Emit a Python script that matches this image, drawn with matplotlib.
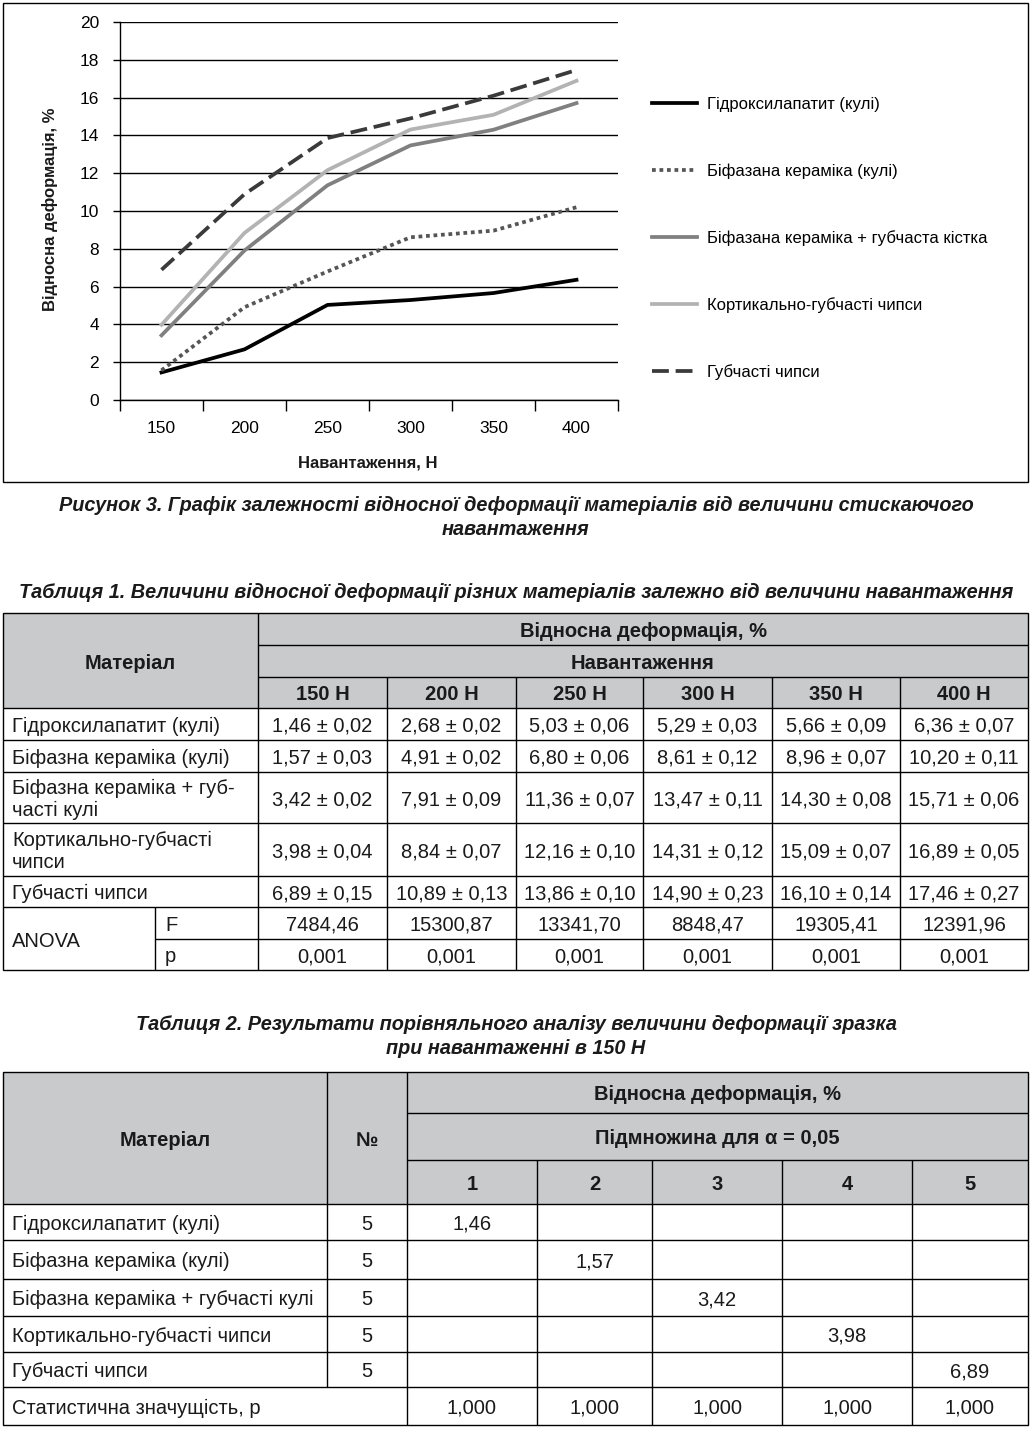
import numpy as np
import matplotlib
matplotlib.use("Agg")
import matplotlib.pyplot as plt
from matplotlib.patches import Rectangle

plt.rcParams['font.family'] = ['Liberation Sans', 'DejaVu Sans']

# ---------------- data ----------------
loads = ['150', '200', '250', '300', '350', '400']
load_headers = ['150 Н', '200 Н', '250 Н', '300 Н', '350 Н', '400 Н']

legend_names = ['Гідроксилапатит (кулі)', 'Біфазана кераміка (кулі)',
                'Біфазана кераміка + губчаста кістка', 'Кортикально-губчасті чипси',
                'Губчасті чипси']
table1_names = ['Гідроксилапатит (кулі)', 'Біфазна кераміка (кулі)',
                'Біфазна кераміка + губ-\nчасті кулі', 'Кортикально-губчасті\nчипси',
                'Губчасті чипси']
table2_names = ['Гідроксилапатит (кулі)', 'Біфазна кераміка (кулі)',
                'Біфазна кераміка + губчасті кулі', 'Кортикально-губчасті чипси',
                'Губчасті чипси']

hydroxyapatite = [1.46, 2.68, 5.03, 5.29, 5.66, 6.36]
biphasic = [1.57, 4.91, 6.80, 8.61, 8.96, 10.20]
biphasic_sponge = [3.42, 7.91, 11.36, 13.47, 14.30, 15.71]
cortical_chips = [3.98, 8.84, 12.16, 14.31, 15.09, 16.89]
sponge_chips = [6.89, 10.89, 13.86, 14.90, 16.10, 17.46]

hydroxyapatite_sd = [0.02, 0.02, 0.06, 0.03, 0.09, 0.07]
biphasic_sd = [0.03, 0.02, 0.06, 0.12, 0.07, 0.11]
biphasic_sponge_sd = [0.02, 0.09, 0.07, 0.11, 0.08, 0.06]
cortical_chips_sd = [0.04, 0.07, 0.10, 0.12, 0.07, 0.05]
sponge_chips_sd = [0.15, 0.13, 0.10, 0.23, 0.14, 0.27]

anova_F = [7484.46, 15300.87, 13341.70, 8848.47, 19305.41, 12391.96]
anova_p = [0.001, 0.001, 0.001, 0.001, 0.001, 0.001]

t2_n = [5, 5, 5, 5, 5]
t2_values = [1.46, 1.57, 3.42, 3.98, 6.89]
t2_subsets = ['1', '2', '3', '4', '5']
t2_p = [1.000, 1.000, 1.000, 1.000, 1.000]

series = [hydroxyapatite, biphasic, biphasic_sponge, cortical_chips, sponge_chips]
series_sd = [hydroxyapatite_sd, biphasic_sd, biphasic_sponge_sd, cortical_chips_sd, sponge_chips_sd]

# ---------------- figure ----------------
W, H = 1030, 1429
fig = plt.figure(figsize=(W / 100, H / 100), dpi=100)
bg = fig.add_axes([0, 0, 1, 1])
bg.set_xlim(0, W)
bg.set_ylim(H, 0)
bg.axis('off')

TXT = '#1a1a1a'
HDR = '#c9cacc'
LW = 1.0
DY = 2.0  # small baseline correction for table text


def fmt(v, d=2):
    return f"{v:.{d}f}".replace('.', ',')


# chart frame
bg.add_patch(Rectangle((3, 3), 1025, 479, fill=False, lw=1.0, ec='black'))

ax = fig.add_axes([120 / W, 1 - 400 / H, 498 / W, 378 / H])
x = np.arange(len(loads))
styles = [
    dict(color='black', lw=2.7, ls='-'),
    dict(color='#555555', lw=2.7, ls=(0, (1, 1)), dash_capstyle='butt'),
    dict(color='#808080', lw=2.7, ls='-'),
    dict(color='#b3b3b3', lw=2.7, ls='-'),
    dict(color='#3a3a3a', lw=2.7, ls=(0, (4.5, 1.8)), dash_capstyle='butt'),
]
for s, name, st in zip(series, legend_names, styles):
    ax.plot(x, s, label=name, zorder=3, **st)

ax.set_xlim(-0.5, 5.5)
ax.set_ylim(0, 20)
ax.set_yticks(range(0, 21, 2))
ax.grid(axis='y', color='black', lw=1.0)
ax.set_axisbelow(True)
ax.set_xticks(x, loads)
ax.set_xticks(np.arange(-0.5, 6.0, 1.0), minor=True)
ax.tick_params(axis='x', which='major', length=0, pad=15, labelsize=12.5)
ax.tick_params(axis='x', which='minor', length=8, width=1, direction='out')
ax.tick_params(axis='y', length=5, width=1, pad=10, labelsize=12.5)
for sp in ['top', 'right']:
    ax.spines[sp].set_visible(False)
for sp in ['left', 'bottom']:
    ax.spines[sp].set_linewidth(1.0)
ax.patch.set_alpha(0)

fig.text(50 / W, 1 - 209 / H, 'Відносна деформація, %', rotation=90, ha='center',
         va='center', fontsize=12, fontweight='bold', color=TXT)
fig.text(368 / W, 1 - 463 / H, 'Навантаження, Н', ha='center', va='center',
         fontsize=12, fontweight='bold', color=TXT)

ax.legend(loc='upper left', bbox_to_anchor=(652 / W, 1 - 97 / H),
          bbox_transform=fig.transFigure, frameon=False, borderpad=0,
          borderaxespad=0, labelspacing=3.07, handlelength=2.7,
          handletextpad=0.6, fontsize=12)

# captions
cap_kw = dict(ha='center', va='center', fontsize=14.3, fontweight='bold',
              fontstyle='italic', color=TXT)
bg.text(516, 505, 'Рисунок 3. Графік залежності відносної деформації матеріалів від величини стискаючого', **cap_kw)
bg.text(516, 529, 'навантаження', **cap_kw)
bg.text(516, 592, 'Таблиця 1. Величини відносної деформації різних матеріалів залежно від величини навантаження', **cap_kw)
bg.text(516, 1025, 'Таблиця 2. Результати порівняльного аналізу величини деформації зразка', **cap_kw)
bg.text(516, 1049, 'при навантаженні в 150 Н', **cap_kw)


def hline(y, x0, x1):
    bg.plot([x0, x1], [y, y], color='black', lw=LW, solid_capstyle='butt')


def vline(x_, y0, y1):
    bg.plot([x_, x_], [y0, y1], color='black', lw=LW, solid_capstyle='butt')


def ttext(x_, y_, s, **kw):
    kw.setdefault('ha', 'center')
    bg.text(x_, y_ + DY, s, va='center', fontsize=FS, color=TXT, **kw)


FS = 14.5
# ---------------- Table 1 ----------------
L, R = 3, 1028
cols1 = [258, 387, 516, 643, 772, 900, 1028]
row_y = [708, 740, 772, 823, 876, 907, 939, 970]
bg.add_patch(Rectangle((L, 613), R - L, 708 - 613, color=HDR, lw=0))
bg.add_patch(Rectangle((L, 613), R - L, 970 - 613, fill=False, ec='black', lw=LW))
hline(645, 258, R)
hline(677, 258, R)
for yy in row_y[:6]:
    hline(yy, L, R)
hline(939, 155, R)
vline(258, 613, 970)
for cx in cols1[1:-1]:
    vline(cx, 677, 970)
vline(155, 907, 970)

ttext((L + 258) / 2, 661, 'Матеріал', fontweight='bold')
ttext((258 + R) / 2, 629, 'Відносна деформація, %', fontweight='bold')
ttext((258 + R) / 2, 661, 'Навантаження', fontweight='bold')
for i, h in enumerate(load_headers):
    ttext((cols1[i] + cols1[i + 1]) / 2, 692.5, h, fontweight='bold')

for r, (name, m, sd) in enumerate(zip(table1_names, series, series_sd)):
    yc = (row_y[r] + row_y[r + 1]) / 2
    ttext(12, yc, name, ha='left', linespacing=1.15)
    for i in range(6):
        ttext((cols1[i] + cols1[i + 1]) / 2, yc, f"{fmt(m[i])} ± {fmt(sd[i])}")

ttext(12, 939, 'ANOVA', ha='left')
ttext(165, 923, 'F', ha='left')
ttext(165, 954.5, 'p', ha='left')
for i in range(6):
    cx = (cols1[i] + cols1[i + 1]) / 2
    ttext(cx, 923, fmt(anova_F[i]))
    ttext(cx, 954.5, fmt(anova_p[i], 3))

# ---------------- Table 2 ----------------
cols2 = [407, 537, 652, 782, 912, 1028]
rows2 = [1204, 1240, 1279, 1316, 1352, 1387, 1425]
bg.add_patch(Rectangle((L, 1072), R - L, 1204 - 1072, color=HDR, lw=0))
bg.add_patch(Rectangle((L, 1072), R - L, 1425 - 1072, fill=False, ec='black', lw=LW))
hline(1113, 407, R)
hline(1160, 407, R)
for yy in rows2[:-1]:
    hline(yy, L, R)
vline(327, 1072, 1387)
vline(407, 1072, 1425)
for cx in cols2[1:-1]:
    vline(cx, 1160, 1425)

ttext((L + 327) / 2, 1138, 'Матеріал', fontweight='bold')
ttext(367, 1138, '№', fontweight='bold')
ttext((407 + R) / 2, 1092, 'Відносна деформація, %', fontweight='bold')
ttext((407 + R) / 2, 1136, 'Підмножина для α = 0,05', fontweight='bold')
for i, s in enumerate(t2_subsets):
    ttext((cols2[i] + cols2[i + 1]) / 2, 1182, s, fontweight='bold')

for r, (name, n, v) in enumerate(zip(table2_names, t2_n, t2_values)):
    yc = (rows2[r] + rows2[r + 1]) / 2
    ttext(12, yc, name, ha='left')
    ttext(367, yc, str(n))
    ttext((cols2[r] + cols2[r + 1]) / 2, yc, fmt(v))

yc = (rows2[5] + rows2[6]) / 2
ttext(12, yc, 'Статистична значущість, р', ha='left')
for i, pv in enumerate(t2_p):
    ttext((cols2[i] + cols2[i + 1]) / 2, yc, fmt(pv, 3))

fig.savefig('out.png', dpi=100)
